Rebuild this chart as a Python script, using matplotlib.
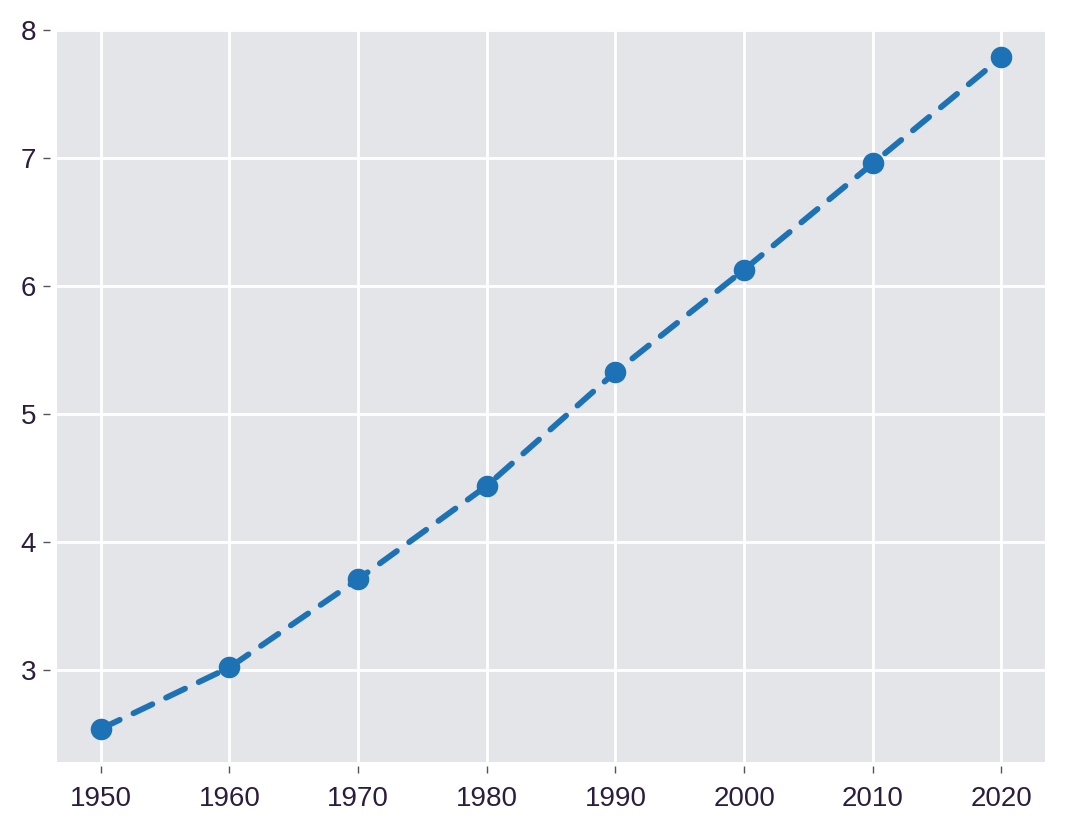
import matplotlib
matplotlib.use('Agg')
import matplotlib.pyplot as plt

# Dados
anos = [1950, 1960, 1970, 1980, 1990, 2000, 2010, 2020]
populacao = [2.54, 3.02, 3.71, 4.44, 5.33, 6.13, 6.96, 7.79]
y_ticks = [3, 4, 5, 6, 7, 8]

plt.rcParams['font.family'] = ['Liberation Sans', 'DejaVu Sans']

fig = plt.figure(figsize=(10.66, 8.32), dpi=100)
ax = fig.add_axes([0.0535, 0.084, 0.927, 0.881])
ax.set_facecolor('#e4e5e9')
for s in ax.spines.values():
    s.set_visible(False)
# ticks um pouco afastados do eixo, como no original
ax.spines['left'].set_position(('outward', 5))
ax.spines['bottom'].set_position(('outward', 3))
ax.grid(True, color='white', linewidth=2)
ax.set_axisbelow(True)

ax.plot(anos, populacao, linestyle='--', marker='o', color='#1c72b5',
        linewidth=4.2, markersize=14.5, dashes=(3.6, 2.6),
        dash_capstyle='round')

ax.set_xticks(anos)
ax.set_yticks(y_ticks)
ax.set_xlim(1946.6, 2023.4)
ax.set_ylim(2.28, 8.01)
ax.tick_params(axis='both', labelsize=20, labelcolor='#2b1d3c',
               color='#555555', length=5, width=1, pad=5)
ax.tick_params(axis='x', pad=9)

fig.savefig('out.png', dpi=100)
